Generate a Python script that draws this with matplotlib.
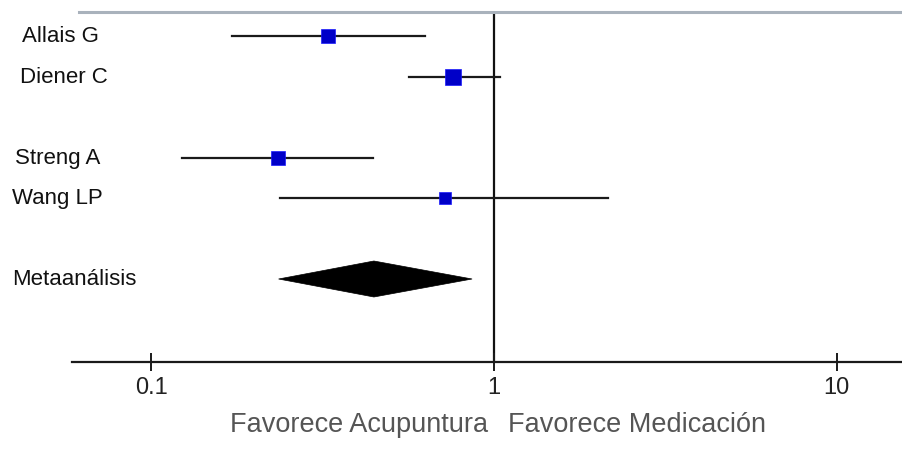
import matplotlib
matplotlib.use("Agg")
import matplotlib.pyplot as plt
import matplotlib.transforms as mtransforms

plt.rcParams["font.family"] = ["Liberation Sans", "DejaVu Sans"]

# Study data (odds ratio with 95% CI), row index on the forest plot
studies = ["Allais G", "Diener C", "Streng A", "Wang LP"]
rows = [0, 1, 3, 4]
estimate = [0.327, 0.76, 0.234, 0.72]
ci_low = [0.172, 0.564, 0.123, 0.238]
ci_high = [0.628, 1.04, 0.443, 2.15]
weight = [10, 11.5, 10, 8]  # marker size ~ study weight

meta_label = "Metaanálisis"
meta_row = 6
meta_est = 0.446
meta_low = 0.235
meta_high = 0.863

xticks = [0.1, 1, 10]
xtick_labels = ["0.1", "1", "10"]
left_text = "Favorece Acupuntura"
right_text = "Favorece Medicación"

# layout
label_x = [22, 20, 15, 12]  # px from left edge
meta_label_x = 12

W, H = 902, 460
fig = plt.figure(figsize=(W / 100, H / 100), dpi=100)
ax = fig.add_axes([72 / W, 1 - 363 / H, 830 / W, 350 / H])

ax.set_xscale("log")
ax.set_xlim(10 ** ((72 - 494) / 342.5), 10 ** ((902 - 494) / 342.5))
ax.set_ylim((363 - 37) / 40.5, (13 - 37) / 40.5)

# spines
for side in ["left", "right"]:
    ax.spines[side].set_visible(False)
ax.spines["bottom"].set_color("#1a1a1a")
ax.spines["bottom"].set_linewidth(1.6)
ax.spines["top"].set_color("#a9b2bc")
ax.spines["top"].set_linewidth(2.2)
ax.spines["top"].set_bounds(10 ** ((79 - 494) / 342.5), 10 ** ((902 - 494) / 342.5))

ax.set_yticks([])
ax.set_xticks(xticks)
ax.set_xticklabels(xtick_labels)
ax.xaxis.set_minor_locator(matplotlib.ticker.NullLocator())
ax.tick_params(axis="x", direction="inout", length=13, width=1.4, color="#1a1a1a",
               labelsize=17, pad=3.5, labelcolor="#222222")

# line of no effect
ax.axvline(1, color="#111111", lw=1.6, zorder=1)

# individual studies
for r, est, lo, hi, w in zip(rows, estimate, ci_low, ci_high, weight):
    ax.plot([lo, hi], [r, r], color="#1a1a1a", lw=1.6, zorder=2)
    ax.plot(est, r, marker="s", ms=w, color="#0000c8", mec="#1a1aff", mew=0.5, zorder=3)

# pooled diamond
h = 18 / 40.5
ax.fill([meta_low, meta_est, meta_high, meta_est],
        [meta_row, meta_row - h, meta_row, meta_row + h],
        color="black", lw=0.5, zorder=3)

# labels on the left
trans = mtransforms.blended_transform_factory(fig.transFigure, ax.transData)
for name, r, lx in zip(studies, rows, label_x):
    ax.text(lx / W, r, name, transform=trans, fontsize=16, va="center", ha="left",
            color="#111111", clip_on=False)
ax.text(meta_label_x / W, meta_row, meta_label, transform=trans, fontsize=16,
        va="center", ha="left", color="#111111", clip_on=False)

# bottom captions
trans2 = mtransforms.blended_transform_factory(ax.transData, fig.transFigure)
ax.text(0.96, 1 - 425 / H, left_text, transform=trans2, fontsize=19.5, ha="right",
        va="center", color="#555555", clip_on=False)
ax.text(1.1, 1 - 425 / H, right_text, transform=trans2, fontsize=19.5, ha="left",
        va="center", color="#555555", clip_on=False)

fig.savefig("out.png", dpi=100)
